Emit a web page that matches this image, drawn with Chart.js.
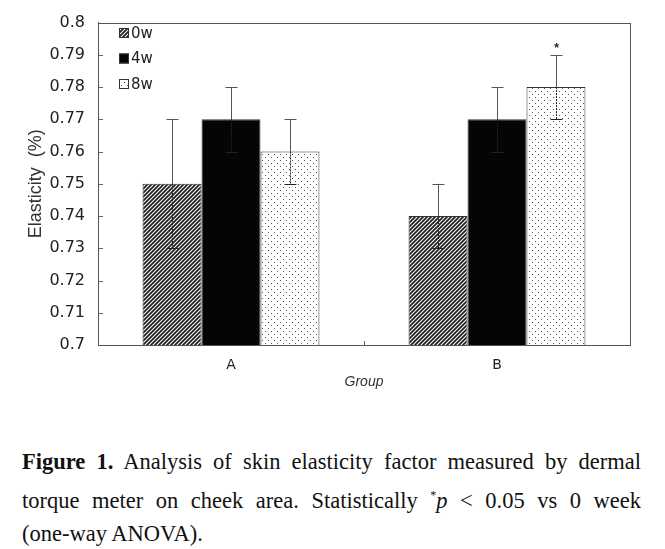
<!DOCTYPE html>
<html>
<head>
<meta charset="utf-8">
<script src="https://cdn.jsdelivr.net/npm/chart.js@4"></script>
<style>
  body { margin: 0; background: #fff; width: 665px; }
  #wrap { width: 665px; height: 400px; position: relative; }
  .caption {
    margin-top: 45px;
    padding: 0 24px 0 22px;
    font-family: 'Liberation Serif', 'Times New Roman', serif;
    font-size: 22.5px;
    line-height: 33.5px;
    color: #111;
  }
  .caption .j { display: block; text-align: justify; text-align-last: justify; white-space: nowrap; }
  .caption .l { display: block; }
</style>
</head>
<body>
<div id="wrap"><canvas id="myChart" width="665" height="400"></canvas></div>
<div class="caption"><span class="j"><b>Figure 1.</b> Analysis of skin elasticity factor measured by dermal</span><span class="j">torque meter on cheek area. Statistically <sup style="font-size:12px">*</sup><i>p</i> &lt; 0.05 vs 0 week</span><span class="l">(one-way ANOVA).</span></div>
<script>
var groups = ['A', 'B'];
var seriesNames = ['0w', '4w', '8w'];
var week0 = [0.75, 0.74];
var week4 = [0.77, 0.77];
var week8 = [0.76, 0.78];
var err0 = [0.02, 0.01];
var err4 = [0.01, 0.01];
var err8 = [0.01, 0.01];
var stars = [[false, false], [false, false], [false, true]];
var yTicks = [0.7, 0.71, 0.72, 0.73, 0.74, 0.75, 0.76, 0.77, 0.78, 0.79, 0.8];

var tickFont = "'DejaVu Sans', sans-serif";

function hatchPattern() {
    var c = document.createElement('canvas');
    c.width = 4; c.height = 4;
    var g = c.getContext('2d');
    g.fillStyle = '#fff';
    g.fillRect(0, 0, 4, 4);
    g.strokeStyle = '#222';
    g.lineWidth = 1.8;
    g.beginPath();
    g.moveTo(-1, 5); g.lineTo(5, -1);
    g.moveTo(-1, 1); g.lineTo(1, -1);
    g.moveTo(3, 5); g.lineTo(5, 3);
    g.stroke();
    return g.createPattern(c, 'repeat');
}

function dotPattern() {
    var c = document.createElement('canvas');
    c.width = 6; c.height = 6;
    var g = c.getContext('2d');
    g.fillStyle = '#fff';
    g.fillRect(0, 0, 6, 6);
    g.fillStyle = '#555';
    g.fillRect(1, 1, 1, 1);
    g.fillRect(4, 4, 1, 1);
    return g.createPattern(c, 'repeat');
}

var fills = [hatchPattern(), '#050505', dotPattern()];
var errs = [err0, err4, err8];

var extras = {
    id: 'extras',
    afterDatasetsDraw: function (chart) {
        var ctx = chart.ctx;
        var y = chart.scales.y;
        var area = chart.chartArea;
        ctx.save();
        // error bars
        chart.data.datasets.forEach(function (ds, i) {
            var meta = chart.getDatasetMeta(i);
            meta.data.forEach(function (bar, j) {
                var v = ds.data[j];
                var e = errs[i][j];
                var top = y.getPixelForValue(v + e);
                var bot = y.getPixelForValue(v - e);
                var mid = y.getPixelForValue(v);
                var x = Math.round(bar.x) + 0.5;
                ctx.lineWidth = 1;
                ctx.strokeStyle = '#555';
                ctx.setLineDash([]);
                ctx.beginPath();
                ctx.moveTo(x, top); ctx.lineTo(x, mid);
                ctx.moveTo(x - 6, Math.round(top) + 0.5); ctx.lineTo(x + 6, Math.round(top) + 0.5);
                ctx.stroke();
                ctx.strokeStyle = '#222';
                ctx.setLineDash([2, 1]);
                ctx.beginPath();
                ctx.moveTo(x, mid); ctx.lineTo(x, bot);
                ctx.stroke();
                ctx.setLineDash([]);
                ctx.beginPath();
                ctx.moveTo(x - 6, Math.round(bot) + 0.5); ctx.lineTo(x + 6, Math.round(bot) + 0.5);
                ctx.stroke();
                if (stars[i][j]) {
                    ctx.fillStyle = '#222';
                    ctx.font = 'bold 12px Arial';
                    ctx.textAlign = 'center';
                    ctx.fillText('*', x, top - 3);
                }
            });
        });
        // inward ticks on y axis
        ctx.strokeStyle = '#666';
        ctx.lineWidth = 1;
        ctx.beginPath();
        yTicks.forEach(function (t) {
            var py = Math.round(y.getPixelForValue(t)) + 0.5;
            ctx.moveTo(area.left, py); ctx.lineTo(area.left + 5, py);
        });
        var xs = chart.scales.x;
        var midX = Math.round((xs.getPixelForValue(0) + xs.getPixelForValue(1)) / 2) + 0.5;
        ctx.moveTo(midX, area.bottom); ctx.lineTo(midX, area.bottom - 4);
        ctx.stroke();
        // legend
        chart.data.datasets.forEach(function (ds, i) {
            var ly = 33 + i * 25.5;
            ctx.fillStyle = ds.backgroundColor;
            ctx.fillRect(119, ly - 5, 10, 10);
            ctx.strokeStyle = '#333';
            ctx.strokeRect(119.5, ly - 4.5, 9, 9);
            ctx.fillStyle = '#222';
            ctx.font = '15px ' + tickFont;
            ctx.textAlign = 'left';
            ctx.textBaseline = 'middle';
            ctx.fillText(ds.label, 131, ly + 1);
        });
        ctx.restore();
    }
};

const data = {
    labels: groups,
    datasets: [week0, week4, week8].map(function (vals, i) {
        return {
            label: seriesNames[i],
            data: vals,
            backgroundColor: fills[i],
            borderColor: '#333',
            borderWidth: 1,
            categoryPercentage: 0.665,
            barPercentage: 1
        };
    })
};

const config = {
    type: 'bar',
    data: data,
    options: {
        responsive: false,
        animation: false,
        layout: { padding: { left: 0, top: 17, right: 35, bottom: 0 } },
        plugins: {
            legend: { display: false },
            tooltip: { enabled: false }
        },
        scales: {
            x: {
                grid: { display: false, drawTicks: false },
                border: { display: true, color: '#666' },
                ticks: { color: '#222', font: { size: 14, family: tickFont }, padding: 12 },
                title: {
                    display: true, text: 'Group', color: '#333',
                    font: { size: 14, style: 'italic', family: 'Arial, Liberation Sans' },
                    padding: { top: 3, bottom: 9 }
                },
                afterFit: function (s) { s.height = 55; }
            },
            y: {
                min: 0.7,
                max: 0.8,
                afterBuildTicks: function (s) { s.ticks = yTicks.map(function (v) { return { value: v }; }); },
                grid: { display: false, drawTicks: false },
                border: { display: true, color: '#666' },
                ticks: {
                    color: '#222',
                    font: { size: 16, family: tickFont },
                    padding: 13,
                    callback: function (v) { return String(+v.toFixed(2)); }
                },
                title: {
                    display: true, text: 'Elasticity  (%)', color: '#333',
                    font: { size: 18, family: 'Arial, Liberation Sans' },
                    padding: { top: 25, bottom: 0 }
                },
                afterFit: function (s) { s.width = 98; }
            }
        }
    },
    plugins: [extras, {
        id: 'frame',
        beforeDraw: function (chart) {
            var c = chart.ctx;
            c.save();
            c.fillStyle = '#fff';
            c.fillRect(0, 0, chart.width, chart.height);
            c.restore();
        },
        afterDraw: function (chart) {
            var c = chart.ctx, a = chart.chartArea;
            c.save();
            c.strokeStyle = '#555';
            c.lineWidth = 1;
            c.strokeRect(Math.round(a.left) + 0.5, Math.round(a.top) + 0.5, Math.round(a.right - a.left), Math.round(a.bottom - a.top));
            c.restore();
        }
    }]
};

const myChart = new Chart(document.getElementById('myChart'), config);
</script>
</body>
</html>
